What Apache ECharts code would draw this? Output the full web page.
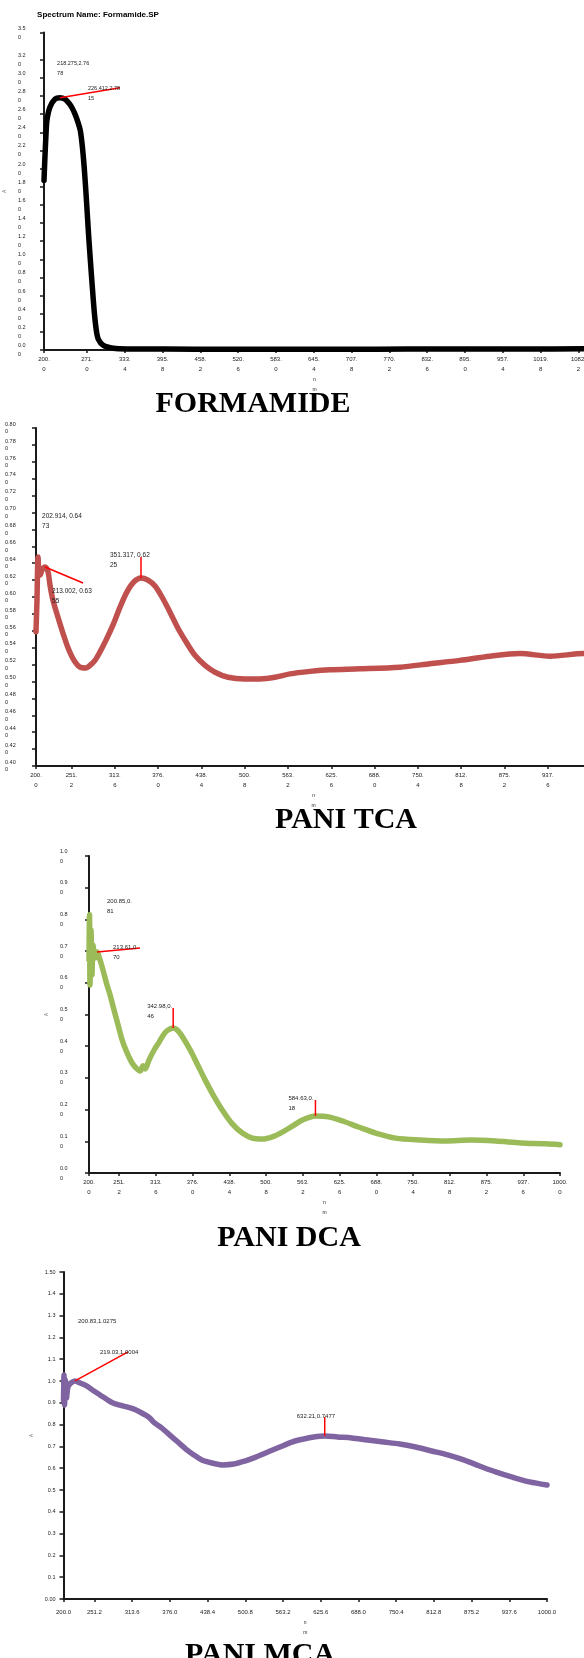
<!DOCTYPE html>
<html>
<head>
<meta charset="utf-8">
<script src="https://cdn.jsdelivr.net/npm/echarts@6/dist/echarts.min.js"></script>
<style>
  html, body { margin: 0; padding: 0; background: #ffffff; }
  #chart { width: 584px; height: 1658px; }
</style>
</head>
<body>
<div id="chart"></div>
<script>
// UV-Vis absorbance spectra, [wavelength (nm), absorbance]
const formamide = [
  [200.0, 1.87], [201.7, 2.15], [203.3, 2.38], [205.0, 2.54], [209.9, 2.68],
  [218.275, 2.7678], [226.412, 2.7815], [234.7, 2.765], [241.3, 2.72], [246.2, 2.67],
  [251.2, 2.60], [256.1, 2.51], [259.9, 2.42], [263.2, 2.25], [266.5, 2.00],
  [269.8, 1.68], [273.1, 1.32], [276.4, 1.00], [279.7, 0.70], [283.0, 0.42],
  [286.3, 0.22], [289.6, 0.12], [297.9, 0.05], [314.4, 0.02], [340.8, 0.012],
  [400, 0.010], [500, 0.008], [600, 0.007], [700, 0.008], [800, 0.010],
  [900, 0.012], [1000, 0.012], [1093, 0.013]
];

const paniTCA = [
  [200.0, 0.559], [201.4, 0.596], [202.914, 0.6473], [204.3, 0.628], [205.8, 0.626],
  [208.6, 0.632], [213.002, 0.6355], [217.3, 0.630], [220.2, 0.614], [224.5, 0.596],
  [231.7, 0.576], [238.9, 0.557], [246.1, 0.540], [254.8, 0.525], [263.4, 0.517],
  [272.1, 0.516], [277.8, 0.519], [285.0, 0.525], [292.2, 0.535], [300.9, 0.549],
  [311.0, 0.567], [321.1, 0.588], [331.1, 0.606], [341.2, 0.618], [351.317, 0.6225],
  [361.4, 0.620], [371.5, 0.613], [381.6, 0.600], [393.1, 0.582], [404.6, 0.563],
  [416.2, 0.547], [429.1, 0.531], [443.6, 0.519], [458.0, 0.511], [476.7, 0.505],
  [501.2, 0.503], [522.8, 0.503], [544.4, 0.505], [566.0, 0.509], [594.9, 0.512],
  [623.7, 0.514], [666.9, 0.515], [724.6, 0.517], [767.8, 0.521], [811.0, 0.525],
  [854.3, 0.530], [897.5, 0.533], [940.7, 0.530], [989.7, 0.533], [1000.0, 0.532]
];

const paniDCA = [
  [200.0, 0.672], [200.851, 0.8143], [201.7, 0.593], [203.4, 0.767], [205.1, 0.625],
  [206.8, 0.719], [210.2, 0.678], [213.614, 0.6970], [218.7, 0.672], [223.8, 0.640],
  [230.6, 0.593], [235.7, 0.562], [242.5, 0.514], [249.4, 0.467], [256.2, 0.420],
  [264.7, 0.379], [273.2, 0.347], [280.0, 0.331], [286.8, 0.322], [291.9, 0.338],
  [295.3, 0.328], [302.1, 0.357], [310.6, 0.388], [319.1, 0.413], [327.6, 0.439],
  [334.4, 0.451], [342.983, 0.4574], [351.5, 0.448], [360.0, 0.426], [371.9, 0.388],
  [383.8, 0.344], [397.4, 0.293], [411.0, 0.246], [426.3, 0.199], [443.4, 0.155],
  [460.4, 0.126], [477.4, 0.110], [494.4, 0.107], [511.4, 0.114], [528.5, 0.129],
  [545.5, 0.148], [562.5, 0.167], [584.627, 0.1798], [606.7, 0.177], [630.6, 0.164],
  [657.8, 0.145], [686.7, 0.126], [720.8, 0.110], [763.3, 0.104], [805.8, 0.101],
  [848.4, 0.104], [890.9, 0.101], [933.5, 0.095], [976.0, 0.092], [1000.0, 0.089]
];

const paniMCA = [
  [200.0, 0.913], [200.827, 1.0275], [201.7, 0.890], [203.3, 1.005], [205.0, 0.922],
  [207.4, 0.973], [212.4, 0.991], [219.026, 1.0004], [227.3, 0.991], [238.8, 0.977],
  [250.4, 0.954], [260.4, 0.936], [271.9, 0.915], [281.9, 0.899], [293.5, 0.889],
  [305.0, 0.881], [315.7, 0.872], [326.5, 0.858], [335.0, 0.845], [343.0, 0.830],
  [349.6, 0.810], [362.8, 0.784], [376.0, 0.752], [389.3, 0.720], [402.5, 0.688],
  [415.7, 0.661], [428.9, 0.638], [445.5, 0.624], [463.6, 0.615], [481.8, 0.619],
  [500.0, 0.633], [518.2, 0.651], [538.0, 0.674], [557.9, 0.697], [577.7, 0.720],
  [597.5, 0.734], [614.0, 0.743], [632.214, 0.7477], [653.7, 0.743], [676.9, 0.739],
  [703.3, 0.729], [729.8, 0.720], [756.2, 0.711], [782.6, 0.697], [809.1, 0.679],
  [835.5, 0.661], [862.0, 0.638], [888.4, 0.610], [914.9, 0.583], [941.3, 0.560],
  [971.1, 0.537], [1000.0, 0.523]
];

// Wavelengths of the labelled points on each spectrum
const formamideMarks = [218.275, 226.412];
const tcaMarks = [202.914, 213.002, 351.317];
const dcaMarks = [200.851, 213.614, 342.983, 584.627];
const mcaMarks = [200.827, 219.026, 632.214];

// Axis tick values
const formamideXTicks = [200.0, 271.0, 333.4, 395.8, 458.2, 520.6, 583.0, 645.4, 707.8, 770.2, 832.6, 895.0, 957.4, 1019.8, 1082.2];
const xTicks = [200.0, 251.2, 313.6, 376.0, 438.4, 500.8, 563.2, 625.6, 688.0, 750.4, 812.8, 875.2, 937.6, 1000.0];
const formamideYTicks = [0, 0.2, 0.4, 0.6, 0.8, 1.0, 1.2, 1.4, 1.6, 1.8, 2.0, 2.2, 2.4, 2.6, 2.8, 3.0, 3.2, 3.4, 3.5];
const tcaYTicks = [0.40, 0.42, 0.44, 0.46, 0.48, 0.50, 0.52, 0.54, 0.56, 0.58, 0.60, 0.62, 0.64, 0.66, 0.68, 0.70, 0.72, 0.74, 0.76, 0.78, 0.80];
const dcaYTicks = [0, 0.1, 0.2, 0.3, 0.4, 0.5, 0.6, 0.7, 0.8, 0.9, 1.0];
const mcaYTicks = [0, 0.1, 0.2, 0.3, 0.4, 0.5, 0.6, 0.7, 0.8, 0.9, 1.0, 1.1, 1.2, 1.3, 1.4, 1.5];

const FONT = '"Liberation Sans", Arial, sans-serif';
const SERIF = '"Liberation Serif", "Times New Roman", serif';
const AXIS_COLOR = '#1a1a1a';
const TEXT_COLOR = '#222';

// wrap a string after n characters
function wrap(s, n) {
  return s.length > n ? s.slice(0, n) + '\n' + s.slice(n) : s;
}
function splitLast(s) {
  return s.slice(0, s.length - 1) + '\n' + s.slice(s.length - 1);
}

// Panel layout and styling
const panels = [
  {
    data: formamide, marks: formamideMarks, color: '#000000',
    grid: { left: 44, top: 32.5, width: 541, height: 317.5 },
    xRange: [200, 1093], xTicks: formamideXTicks, yRange: [0, 3.5], yTicks: formamideYTicks,
    xFmt: v => splitLast(v.toFixed(1)), xMargin: 4,
    yFmt: v => wrap(v.toFixed(2), 3), yAlign: 'left', yMargin: 26, yLine: 9, yNameGap: 32,
    labelFmt: (x, y) => wrap(x.toFixed(3) + ',' + y.toFixed(4), 12), labelSize: 5.5,
    layout: [
      { line: null, text: [2, -40] },
      { line: [60, -10], text: [28, -14] }
    ]
  },
  {
    data: paniTCA, marks: tcaMarks, color: '#C0504D',
    grid: { left: 36, top: 428, width: 555.1, height: 338 },
    xRange: [200, 1000], xTicks: xTicks, yRange: [0.4, 0.8], yTicks: tcaYTicks,
    xFmt: v => splitLast(v.toFixed(1)), xMargin: 4,
    yFmt: v => wrap(v.toFixed(3), 4), yAlign: 'left', yMargin: 31, yLine: 7.5, yNameGap: 33,
    labelFmt: (x, y) => wrap(x.toFixed(3) + ', ' + y.toFixed(4), 13), labelSize: 6.5,
    layout: [
      { line: null, text: [4, -46] },
      { line: [38, 16], text: [7, 19] },
      { line: [0, -21], text: [-31, -28] }
    ]
  },
  {
    data: paniDCA, marks: dcaMarks, color: '#9BBB59',
    grid: { left: 89, top: 856, width: 471, height: 317 },
    xRange: [200, 1000], xTicks: xTicks, yRange: [0, 1.0], yTicks: dcaYTicks,
    xFmt: v => splitLast(v.toFixed(1)), xMargin: 4,
    yFmt: v => wrap(v.toFixed(2), 3), yAlign: 'left', yMargin: 29, yLine: 10, yNameGap: 36,
    labelFmt: (x, y) => wrap(x.toFixed(2) + ',' + y.toFixed(2), 9), labelSize: 6,
    layout: [
      { line: null, text: [17.5, -19] },
      { line: [43, -4], text: [16, -10] },
      { line: [0, -20], text: [-26, -27] },
      { line: [0, -16], text: [-27, -23] }
    ]
  },
  {
    data: paniMCA, marks: mcaMarks, color: '#8064A2',
    grid: { left: 63.5, top: 1272, width: 483.5, height: 327 },
    xRange: [200, 1000], xTicks: xTicks, yRange: [0, 1.5], yTicks: mcaYTicks,
    xFmt: v => v.toFixed(1), xMargin: 8,
    yFmt: v => (v === 0 || v === 1.5) ? v.toFixed(2) : v.toFixed(1), yAlign: 'right', yMargin: 8, yLine: 9, yNameGap: 27,
    labelFmt: (x, y) => x.toFixed(2) + ',' + y.toFixed(4), labelSize: 6,
    layout: [
      { line: null, text: [14, -59] },
      { line: [53, -29], text: [25, -34] },
      { line: [0, -19], text: [-28, -25] }
    ]
  }
];

const grids = [], xAxes = [], yAxes = [], series = [];

panels.forEach((p, i) => {
  grids.push(Object.assign({ containLabel: false, outerBoundsMode: 'none' }, p.grid));

  xAxes.push({
    type: 'value', gridIndex: i, min: p.xRange[0], max: p.xRange[1],
    name: 'n\nm', nameLocation: 'middle', nameGap: 13,
    nameTextStyle: { fontSize: 5, color: TEXT_COLOR, lineHeight: 10, fontFamily: FONT },
    axisLine: { show: true, onZero: false, lineStyle: { color: AXIS_COLOR, width: 2 } },
    axisTick: { show: true, length: 3, customValues: p.xTicks, lineStyle: { color: AXIS_COLOR, width: 1.5 } },
    axisLabel: {
      customValues: p.xTicks, formatter: p.xFmt, fontSize: 6, lineHeight: 10,
      color: TEXT_COLOR, margin: p.xMargin, fontFamily: FONT, showMinLabel: true, showMaxLabel: true
    },
    splitLine: { show: false }
  });

  yAxes.push({
    type: 'value', gridIndex: i, min: p.yRange[0], max: p.yRange[1],
    name: 'A', nameLocation: 'middle', nameGap: p.yNameGap, nameRotate: 90,
    nameTextStyle: { fontSize: 5, color: '#777', fontFamily: FONT },
    axisLine: { show: true, onZero: false, lineStyle: { color: AXIS_COLOR, width: 2 } },
    axisTick: { show: true, length: 4, customValues: p.yTicks, lineStyle: { color: AXIS_COLOR, width: 1.5 } },
    axisLabel: {
      customValues: p.yTicks, formatter: p.yFmt, fontSize: 5.5, lineHeight: p.yLine,
      color: TEXT_COLOR, margin: p.yMargin, align: p.yAlign, fontFamily: FONT,
      showMinLabel: true, showMaxLabel: true
    },
    splitLine: { show: false }
  });

  series.push({
    type: 'line', xAxisIndex: i, yAxisIndex: i, data: p.data,
    showSymbol: false, smooth: 0.3, silent: true, z: 2,
    lineStyle: { color: p.color, width: 5.5, cap: 'round', join: 'round' }
  });

  // labelled points, taken from the spectrum itself
  const points = p.marks.map(nm => p.data.find(d => d[0] === nm));
  series.push({
    type: 'custom', xAxisIndex: i, yAxisIndex: i, coordinateSystem: 'cartesian2d',
    clip: false, silent: true, z: 5, data: points,
    renderItem: (params, api) => {
      const x = api.value(0), y = api.value(1);
      const pt = api.coord([x, y]);
      const L = p.layout[params.dataIndex];
      const children = [];
      if (L.line) {
        children.push({
          type: 'line',
          shape: { x1: pt[0], y1: pt[1], x2: pt[0] + L.line[0], y2: pt[1] + L.line[1] },
          style: { stroke: '#ff0000', lineWidth: 1.5 }
        });
      }
      children.push({
        type: 'text', x: pt[0] + L.text[0], y: pt[1] + L.text[1],
        style: {
          text: p.labelFmt(x, y), fill: TEXT_COLOR, fontSize: p.labelSize, lineHeight: 10,
          fontFamily: FONT, align: 'left', verticalAlign: 'top'
        }
      });
      return { type: 'group', children };
    }
  });
});

function title(text, x, y, size, weight, family) {
  return {
    type: 'text', x: x, y: y, silent: true,
    style: {
      text: text, fill: '#000', fontSize: size, fontWeight: weight, fontFamily: family,
      align: 'center', verticalAlign: 'middle', textAlign: 'center', textVerticalAlign: 'middle'
    }
  };
}

const chart = echarts.init(document.getElementById('chart'), null, { renderer: 'canvas', width: 584, height: 1658 });
chart.setOption({
  animation: false,
  backgroundColor: '#ffffff',
  textStyle: { fontFamily: FONT },
  grid: grids,
  xAxis: xAxes,
  yAxis: yAxes,
  series: series,
  graphic: [
    title('Spectrum Name: Formamide.SP', 98, 15, 8, 'bold', FONT),
    title('FORMAMIDE', 253, 404, 30, 'bold', SERIF),
    title('PANI TCA', 346, 820, 30, 'bold', SERIF),
    title('PANI DCA', 289, 1238, 30, 'bold', SERIF),
    title('PANI MCA', 260, 1655, 30, 'bold', SERIF)
  ]
});
</script>
</body>
</html>
